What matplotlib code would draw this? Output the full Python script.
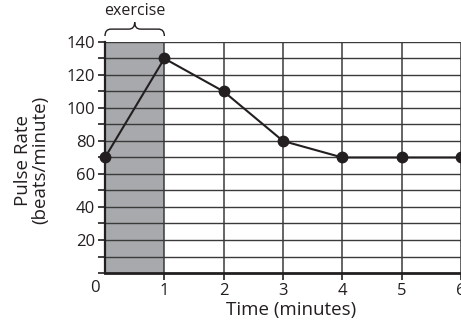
"""
Pulse rate before/after exercise line chart.
"""
import matplotlib
matplotlib.use("Agg")
import matplotlib.pyplot as plt
from matplotlib.path import Path
from matplotlib.patches import PathPatch

plt.rcParams["font.family"] = ["Open Sans", "DejaVu Sans"]

# ── Data ──────────────────────────────────────────────────────────────────────
time_min = [0, 1, 2, 3, 4, 5, 6]
pulse = [70, 130, 110, 80, 70, 70, 70]
exercise_span = (0, 1)
y_labels = [20, 40, 60, 80, 100, 120, 140]
x_labels = [1, 2, 3, 4, 5, 6]

INK = "#231f20"
GRID = "#3a3a3a"
SHADE = "#a7a9ac"

# ── Canvas ────────────────────────────────────────────────────────────────────
fig = plt.figure(figsize=(4.61, 3.24), dpi=100)
ax = fig.add_axes([0.2278, 0.1574, 0.7722, 0.713])
ax.set_xlim(0, 6)
ax.set_ylim(0, 140)

ax.axvspan(*exercise_span, color=SHADE, zorder=0, lw=0)

# grid
for yv in range(10, 141, 10):
    ax.axhline(yv, color=GRID, lw=1.0, zorder=1)
for xv in range(1, 7):
    ax.axvline(xv, color=GRID, lw=1.1, zorder=1)

ax.plot(time_min, pulse, color=INK, lw=1.5, marker="o", ms=7.5,
        mfc=INK, mec=INK, zorder=3, clip_on=False)

# spines / ticks
for s in ("top", "right"):
    ax.spines[s].set_visible(False)
ax.spines["left"].set_linewidth(1.6)
ax.spines["bottom"].set_linewidth(2.0)
ax.spines["left"].set_color(INK)
ax.spines["bottom"].set_color(INK)

ax.set_yticks(range(0, 141, 10))
ax.set_yticklabels([str(v) if v in y_labels else "" for v in range(0, 141, 10)])
ax.set_xticks(x_labels)
ax.set_xticklabels([str(v) for v in x_labels])
ax.tick_params(axis="y", length=5, width=1.2, color=INK, labelcolor=INK,
               labelsize=12, pad=2)
ax.tick_params(axis="x", length=5, width=1.2, color=INK, labelcolor=INK,
               labelsize=12, pad=2)
ax.text(-0.17, -4, "0", ha="center", va="top", fontsize=12, color=INK,
        clip_on=False)

ax.set_xlabel("Time (minutes)", fontsize=13.5, color=INK)
ax.xaxis.set_label_coords(0.523, -0.16)
ax.set_ylabel("Pulse Rate\n(beats/minute)", fontsize=13.5, color=INK,
              linespacing=1.0)
ax.yaxis.set_label_coords(-0.206, 0.489)
ax.xaxis.label.set_va("center")
ax.yaxis.label.set_va("center")

# ── Exercise brace ────────────────────────────────────────────────────────────
x0, x1 = exercise_span
xm = (x0 + x1) / 2
yb, yh, yt = 143.6, 147.8, 152.0
verts = [(x0, yb), (x0, yh), (x0 + 0.1, yh), (xm - 0.1, yh),
         (xm, yh), (xm, yt), (xm, yh), (xm + 0.1, yh),
         (x1 - 0.1, yh), (x1, yh), (x1, yb)]
codes = [Path.MOVETO, Path.CURVE3, Path.CURVE3, Path.LINETO,
         Path.CURVE3, Path.CURVE3, Path.CURVE3, Path.CURVE3,
         Path.LINETO, Path.CURVE3, Path.CURVE3]
ax.add_patch(PathPatch(Path(verts, codes), fill=False, ec=INK, lw=1.0,
                       clip_on=False))
ax.text(xm, 159, "exercise", ha="center", va="center", fontsize=11.5,
        color=INK, clip_on=False)

plt.savefig("out.png", dpi=100)
